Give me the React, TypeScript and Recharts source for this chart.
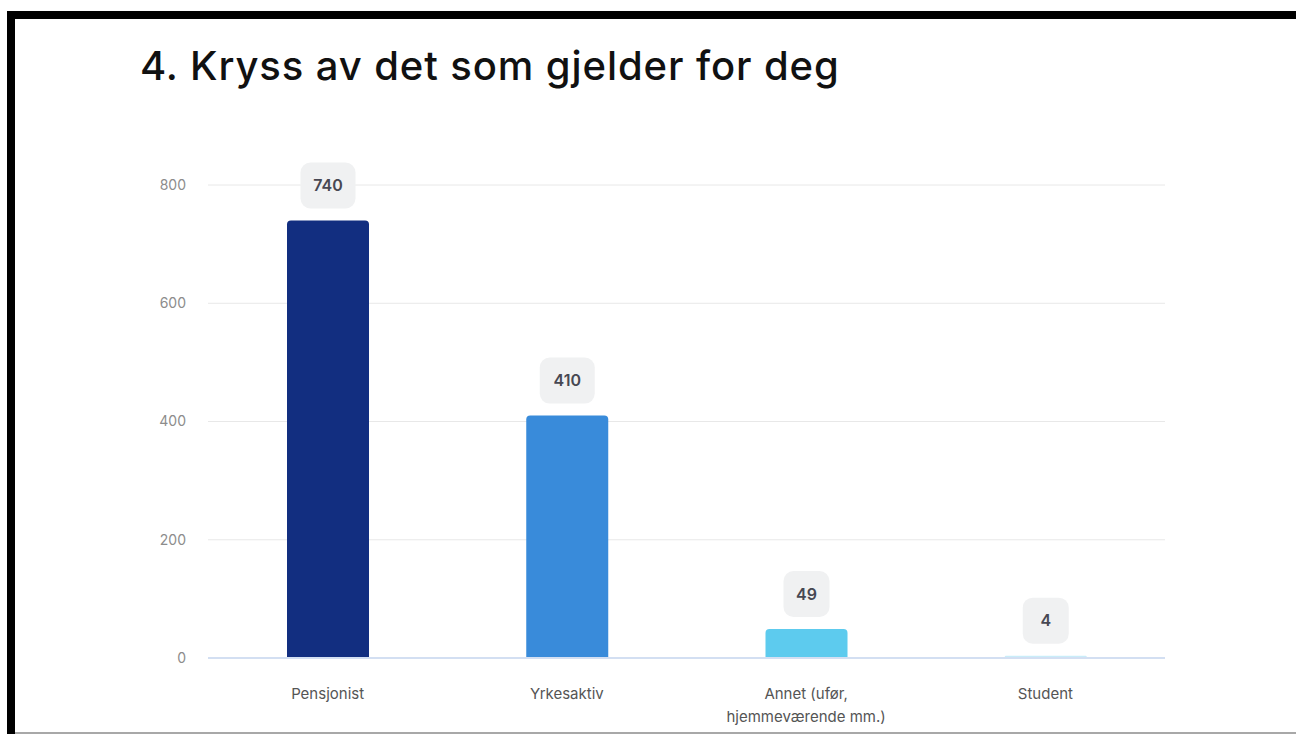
import { Bar, BarChart, CartesianGrid, Cell, LabelList, XAxis, YAxis } from 'recharts';

const categories = ['Pensjonist', 'Yrkesaktiv', 'Annet (ufør, hjemmeværende mm.)', 'Student'];
const counts = [740, 410, 49, 4];
const barColors = ['#122E80', '#398BDA', '#5DCBEE', '#C9EDF9'];
const yTicks = [0, 200, 400, 600, 800];

// x tick lines for long labels
const tickLines: Record<string, string[]> = {
  'Annet (ufør, hjemmeværende mm.)': ['Annet (ufør,', 'hjemmeværende mm.)'],
};

const data = categories.map((name, i) => ({ name, value: counts[i] }));

const FONT = 'Inter, "Noto Sans", sans-serif';

function ValueBadge(props: any) {
  const { x, y, width, value } = props;
  const txt = String(value);
  const w = Math.max(46, 28 + txt.length * 9);
  const h = 46;
  const cx = x + width / 2;
  const bottom = y - 12;
  return (
    <g>
      <rect x={cx - w / 2} y={bottom - h} width={w} height={h} rx={10} ry={10} fill="#F0F1F2" />
      <text x={cx} y={bottom - h / 2} dy="0.35em" textAnchor="middle" fontFamily={FONT} fontSize={16} fontWeight={600} fill="#474853">
        {txt}
      </text>
    </g>
  );
}

function CategoryTick(props: any) {
  const { x, y, payload } = props;
  const lines = tickLines[payload.value] ?? [payload.value];
  return (
    <text x={x} y={y} textAnchor="middle" fontFamily={FONT} fontSize={15} fill="#555555">
      {lines.map((l, i) => (
        <tspan key={i} x={x} dy={i === 0 ? 33 : 23}>{l}</tspan>
      ))}
    </text>
  );
}

export default function App() {
  return (
    <div style={{ position: 'fixed', left: 0, top: 0, width: 1296, height: 734, background: '#fff', overflow: 'hidden' }}>
      <div style={{ position: 'absolute', left: 7, top: 11, width: 1289, height: 8, background: '#000' }} />
      <div style={{ position: 'absolute', left: 7, top: 11, width: 8, height: 723, background: '#000' }} />
      <div style={{ position: 'absolute', left: 15, top: 732, width: 1281, height: 2, background: '#a8a8a8' }} />
      <div style={{
        position: 'absolute', left: 140, top: 42, fontFamily: FONT, fontSize: 40, fontWeight: 500,
        letterSpacing: 0.9, color: '#111', whiteSpace: 'nowrap', lineHeight: '48px',
      }}>
        4. Kryss av det som gjelder for deg
      </div>
      <div style={{ position: 'absolute', left: 0, top: 0 }}>
        <BarChart width={1296} height={734} data={data} margin={{ top: 185, right: 131, bottom: 0, left: 148 }}>
          <CartesianGrid stroke="#E8E8E8" vertical={false} />
          <YAxis
            domain={[0, 800]}
            ticks={yTicks}
            axisLine={false}
            tickLine={false}
            width={60}
            tickMargin={16}
            tick={{ fill: '#8C8C8C', fontSize: 14, fontFamily: FONT }}
          />
          <XAxis
            dataKey="name"
            axisLine={{ stroke: '#D3DFF2', strokeWidth: 2 }}
            tickLine={false}
            interval={0}
            height={76}
            tick={<CategoryTick />}
          />
          <Bar dataKey="value" barSize={82} radius={[4, 4, 0, 0]} isAnimationActive={false}>
            {data.map((d, i) => (
              <Cell key={d.name} fill={barColors[i]} />
            ))}
            <LabelList dataKey="value" content={<ValueBadge />} />
          </Bar>
        </BarChart>
      </div>
    </div>
  );
}
